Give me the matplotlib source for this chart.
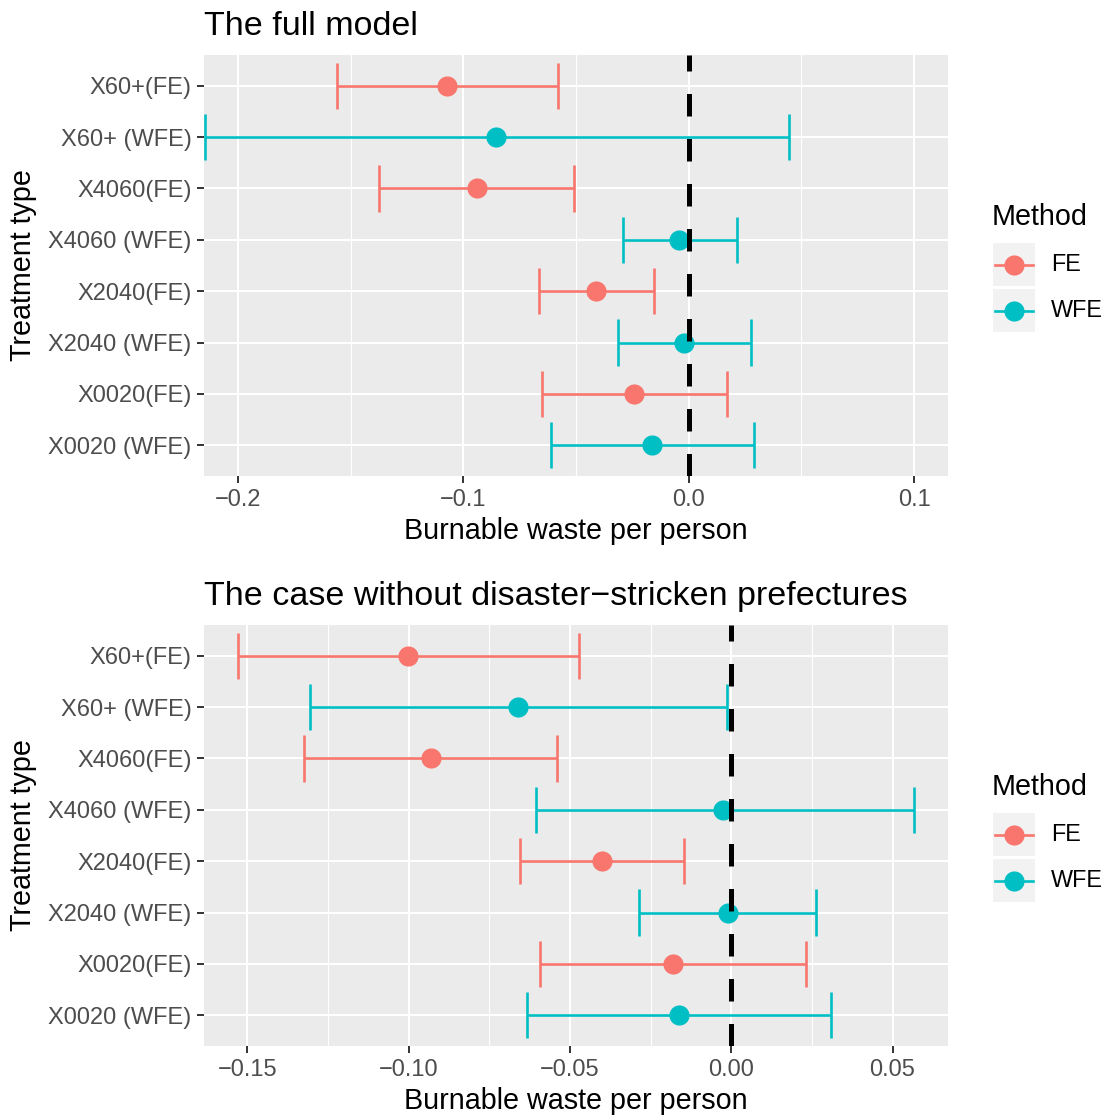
import numpy as np
import matplotlib.pyplot as plt
from matplotlib.patches import Rectangle
from matplotlib.lines import Line2D
from matplotlib.ticker import FixedLocator, FuncFormatter

plt.rcParams['font.family'] = ['Liberation Sans', 'DejaVu Sans']

# data
labels = ["X60+(FE)", "X60+ (WFE)", "X4060(FE)", "X4060 (WFE)",
          "X2040(FE)", "X2040 (WFE)", "X0020(FE)", "X0020 (WFE)"]
method = ["FE", "WFE", "FE", "WFE", "FE", "WFE", "FE", "WFE"]

full_est = [-0.1072, -0.0855, -0.0939, -0.0043, -0.0411, -0.0021, -0.0243, -0.0163]
full_lo = [-0.1560, -0.2146, -0.1374, -0.0291, -0.0664, -0.0314, -0.0651, -0.0611]
full_hi = [-0.0580, 0.0445, -0.0509, 0.0214, -0.0154, 0.0276, 0.0170, 0.0290]

sub_est = [-0.1001, -0.0660, -0.0930, -0.0025, -0.0400, -0.0009, -0.0180, -0.0161]
sub_lo = [-0.1529, -0.1305, -0.1324, -0.0604, -0.0654, -0.0285, -0.0592, -0.0632]
sub_hi = [-0.0471, -0.0012, -0.0539, 0.0567, -0.0146, 0.0263, 0.0232, 0.0310]

colors = {"FE": "#F8766D", "WFE": "#00BFC4"}

W, H = 1111, 1120
fig = plt.figure(figsize=(W / 100, H / 100), dpi=100)


def px_axes(left, top, right, bottom):
    return fig.add_axes([left / W, 1 - bottom / H, (right - left) / W, (bottom - top) / H])


def fmt(dec):
    return FuncFormatter(lambda v, p: f"{v:.{dec}f}".replace("-", "\u2212"))


def panel(ax, title, est, lo, hi, xticks, dec, xlim=None):
    ax.set_facecolor("#EBEBEB")
    for s in ax.spines.values():
        s.set_visible(False)
    y = np.arange(len(labels))
    for i in range(len(labels)):
        c = colors[method[i]]
        ax.hlines(y[i], lo[i], hi[i], color=c, lw=1.9, zorder=3)
        ax.vlines([lo[i], hi[i]], y[i] - 0.45, y[i] + 0.45, color=c, lw=1.9, zorder=3)
        ax.plot(est[i], y[i], "o", color=c, ms=14.5, mec="none", zorder=4)
    ax.axvline(0, color="black", lw=3.6, ls=(0, (4.5, 4.5)), zorder=5)
    ax.set_yticks(y)
    ax.set_yticklabels(labels)
    ax.set_ylim(len(labels) - 0.4, -0.6)
    if xlim is None:
        ax.margins(x=0.05)
    else:
        ax.set_xlim(xlim)
    step = xticks[1] - xticks[0]
    ax.xaxis.set_major_locator(FixedLocator(xticks))
    ax.xaxis.set_minor_locator(FixedLocator([t - step / 2 for t in xticks] + [xticks[-1] + step / 2]))
    ax.xaxis.set_major_formatter(fmt(dec))
    ax.grid(which="major", color="white", lw=1.45, zorder=0)
    ax.grid(which="minor", axis="x", color="white", lw=0.8, zorder=0)
    ax.set_axisbelow(True)
    ax.tick_params(which="major", length=5, width=1.4, color="#333333",
                   labelcolor="#4D4D4D", labelsize=17, pad=4)
    ax.tick_params(which="minor", length=0)
    ax.set_xlabel("Burnable waste per person", fontsize=20.7, labelpad=5)
    ax.set_ylabel("Treatment type", fontsize=20.7, labelpad=8)
    ax.set_title(title, loc="left", fontsize=24.5, pad=14.5)


ax1 = px_axes(204, 55, 948, 476)
panel(ax1, "The full model", full_est, full_lo, full_hi,
      [-0.2, -0.1, 0.0, 0.1], 1, xlim=(-0.215, 0.115))
ax2 = px_axes(204, 625, 948, 1046)
panel(ax2, "The case without disaster\u2212stricken prefectures", sub_est, sub_lo, sub_hi,
      [-0.15, -0.10, -0.05, 0.00, 0.05], 2)

# legends drawn on an overlay in pixel units
ov = fig.add_axes([0, 0, 1, 1], facecolor="none")
ov.set_xlim(0, W)
ov.set_ylim(H, 0)
ov.axis("off")
for top in (55, 625):
    ov.text(992, top + 162, "Method", fontsize=20.7, va="center", ha="left")
    for k, m in enumerate(["FE", "WFE"]):
        ky = top + 188 + k * 46
        ov.add_patch(Rectangle((993, ky), 42, 43, color="#F2F2F2", lw=0))
        cy = ky + 21.5
        ov.add_line(Line2D([995, 1033], [cy, cy], color=colors[m], lw=1.9))
        ov.plot(1014, cy, "o", color=colors[m], ms=14.5, mec="none")
        ov.text(1051, cy, m, fontsize=16.8, va="center", ha="left")

fig.savefig("out.png", dpi=100)
